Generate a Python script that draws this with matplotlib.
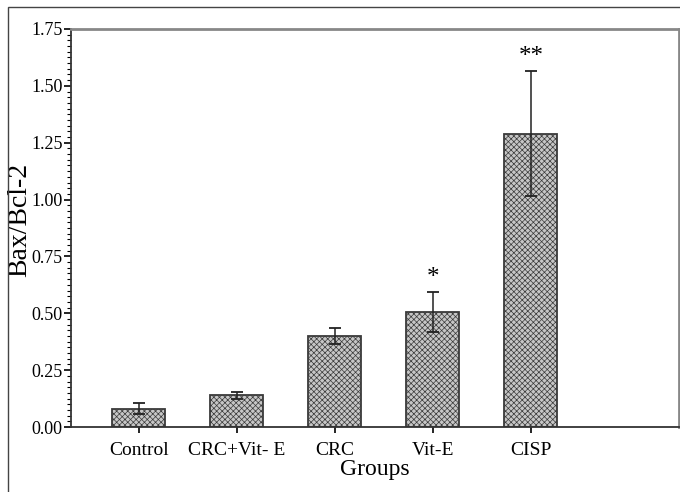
import numpy as np
import matplotlib
matplotlib.use("Agg")
import matplotlib.pyplot as plt
from matplotlib.ticker import MultipleLocator, FormatStrFormatter
from matplotlib.patches import Rectangle

# Data
groups = ["Control", "CRC+Vit- E", "CRC", "Vit-E", "CISP"]
ratio = [0.08, 0.14, 0.40, 0.505, 1.29]
err = [0.025, 0.015, 0.037, 0.088, 0.275]
marks = ["", "", "", "*", "**"]

plt.rcParams["font.family"] = ["Liberation Serif", "DejaVu Serif"]
plt.rcParams["hatch.color"] = "#9c9c9c"
plt.rcParams["hatch.linewidth"] = 0.5

fig = plt.figure(figsize=(6.8, 4.92), dpi=100)
ax = fig.add_axes([0.1044, 0.1321, 0.894, 0.809])

x = np.arange(len(groups))
ax.bar(x, ratio, width=0.54, color="#c6c6c6", edgecolor="#3a3a3a",
       linewidth=1.3, hatch="xxxxxx", zorder=2)
ax.errorbar(x, ratio, yerr=err, fmt="none", ecolor="#222222",
            elinewidth=1.1, capsize=4.5, capthick=1.3, zorder=3)

for xi, v, e, m in zip(x, ratio, err, marks):
    if m:
        ax.text(xi, v + e + 0.012, m, ha="center", va="bottom", fontsize=18)

ax.set_xlim(-0.69, 5.51)
ax.set_ylim(0, 1.75)
ax.set_xticks(x)
ax.set_xticklabels(groups, fontsize=14)
ax.yaxis.set_major_locator(MultipleLocator(0.25))
ax.yaxis.set_minor_locator(MultipleLocator(0.025))
ax.yaxis.set_major_formatter(FormatStrFormatter("%.2f"))
ax.tick_params(axis="y", which="major", length=5, width=1.2, labelsize=13, pad=1)
ax.tick_params(axis="y", which="minor", length=3, width=0.8)
ax.tick_params(axis="x", length=4, width=1.2, pad=7)

ax.set_xlabel("Groups", fontsize=17, labelpad=0)
ax.set_ylabel("Bax/Bcl-2", fontsize=20)
ax.yaxis.set_label_coords(-0.064, 0.52)

for s in ["left", "bottom"]:
    ax.spines[s].set_color("#333333")
    ax.spines[s].set_linewidth(1.3)
for s in ["top", "right"]:
    ax.spines[s].set_color("#888888")
    ax.spines[s].set_linewidth(2.0)

# outer frame of the figure panel
fig.patches.append(Rectangle((8 / 680, -0.1), 1.2, 1.1 - 7 / 492,
                             transform=fig.transFigure, fill=False,
                             edgecolor="#444444", linewidth=1.0))

fig.savefig("out.png", dpi=100)
